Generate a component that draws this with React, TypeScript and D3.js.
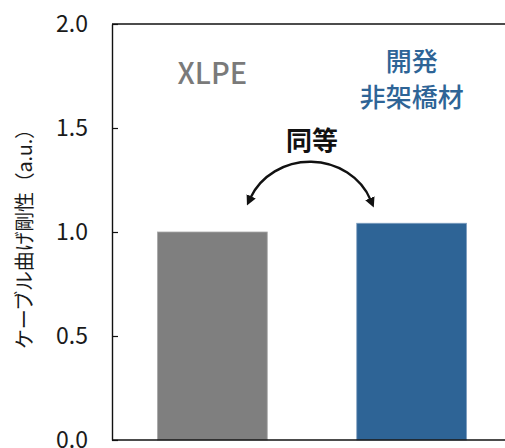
import React, { useEffect, useRef } from 'react';
import * as d3 from 'd3';

const categories = ['XLPE', '開発非架橋材'];
const values = [1.0, 1.042];
const barColors = ['#7f7f7f', '#2e6496'];
const barStrokes = ['#a8a8a8', '#7f9fc0'];
const yTicks = [0, 0.5, 1.0, 1.5, 2.0];
const yLabel = 'ケーブル曲げ剛性（a.u.）';
const blueLabel = ['開発', '非架橋材'];
const equalLabel = '同等';

const FONT = '"Noto Sans CJK JP", "Noto Sans", sans-serif';

const App: React.FC = () => {
  const svgRef = useRef<SVGSVGElement>(null);

  useEffect(() => {
    if (!svgRef.current) return;
    const width = 505;
    const height = 448;
    const margin = { top: 24, left: 112, bottom: 8, right: -7 };

    const svg = d3.select(svgRef.current);
    svg.selectAll('*').remove();

    const x = d3.scaleBand<string>()
      .domain(categories)
      .range([margin.left, width - margin.right])
      .paddingInner(0.449)
      .paddingOuter(0.228);

    const y = d3.scaleLinear()
      .domain([0, 2])
      .range([height - margin.bottom, margin.top]);

    // bars
    svg.append('g')
      .selectAll('rect')
      .data(values)
      .enter().append('rect')
      .attr('x', (_, i) => x(categories[i])!)
      .attr('y', d => y(d))
      .attr('width', x.bandwidth())
      .attr('height', d => y(0) - y(d))
      .attr('fill', (_, i) => barColors[i])
      .attr('stroke', (_, i) => barStrokes[i])
      .attr('stroke-width', 0.8);

    // frame: top and bottom lines
    svg.append('line')
      .attr('x1', margin.left).attr('x2', width + 10)
      .attr('y1', y(2)).attr('y2', y(2))
      .attr('stroke', '#111').attr('stroke-width', 1.4);
    svg.append('line')
      .attr('x1', margin.left).attr('x2', width + 10)
      .attr('y1', y(0)).attr('y2', y(0))
      .attr('stroke', '#111').attr('stroke-width', 1.4);

    // y axis, ticks inward
    const yAxis = svg.append('g')
      .attr('transform', `translate(${margin.left},0)`)
      .call(d3.axisLeft(y)
        .tickValues(yTicks)
        .tickFormat(d3.format('.1f'))
        .tickSizeInner(-6)
        .tickSizeOuter(0)
        .tickPadding(24));
    yAxis.select('.domain').attr('stroke', '#111').attr('stroke-width', 1.4);
    yAxis.selectAll('.tick line').attr('stroke', '#111').attr('stroke-width', 1.2);
    yAxis.selectAll('.tick text')
      .attr('font-family', FONT)
      .attr('font-size', 23)
      .attr('fill', '#1a1a1a')
      .attr('dy', '0.34em');

    // y axis title
    svg.append('text')
      .attr('transform', `translate(23,${(y(2) + y(0)) / 2 + 2}) rotate(-90)`)
      .attr('text-anchor', 'middle')
      .attr('dominant-baseline', 'central')
      .attr('font-family', FONT)
      .attr('font-size', 20)
      .attr('textLength', 230)
      .attr('lengthAdjust', 'spacing')
      .attr('fill', '#1a1a1a')
      .text(yLabel);

    const cx = (i: number) => x(categories[i])! + x.bandwidth() / 2;

    // category labels inside plot
    svg.append('text')
      .attr('x', cx(0))
      .attr('y', y(1.71))
      .attr('text-anchor', 'middle')
      .attr('font-family', FONT)
      .attr('font-size', 29)
      .attr('font-weight', 500)
      .attr('fill', '#7a7a7a')
      .text(categories[0]);

    svg.append('g')
      .selectAll('text')
      .data(blueLabel)
      .enter().append('text')
      .attr('x', cx(1))
      .attr('y', (_, i) => y(1.83) + i * 36)
      .attr('text-anchor', 'middle')
      .attr('dominant-baseline', 'central')
      .attr('font-family', FONT)
      .attr('font-size', 26)
      .attr('font-weight', 500)
      .attr('fill', '#2e6496')
      .text(d => d);

    const midX = (cx(0) + cx(1)) / 2;
    svg.append('text')
      .attr('x', midX)
      .attr('y', y(1.45))
      .attr('text-anchor', 'middle')
      .attr('dominant-baseline', 'central')
      .attr('font-family', FONT)
      .attr('font-size', 26)
      .attr('font-weight', 700)
      .attr('fill', '#111')
      .text(equalLabel);

    // double arrow arc
    const defs = svg.append('defs');
    defs.append('marker')
      .attr('id', 'arrowHead')
      .attr('viewBox', '0 0 10 10')
      .attr('refX', 2)
      .attr('refY', 5)
      .attr('markerWidth', 4.2)
      .attr('markerHeight', 4.2)
      .attr('markerUnits', 'strokeWidth')
      .attr('orient', 'auto-start-reverse')
      .append('path')
      .attr('d', 'M0,0 L10,5 L0,10 Z')
      .attr('fill', '#111');

    const ax0 = cx(0) + 38;
    const ax1 = cx(1) - 41;
    const ay = y(1.163);
    svg.append('path')
      .attr('d', `M${ax0},${ay} A65,60 0 0 1 ${ax1},${ay + 2}`)
      .attr('fill', 'none')
      .attr('stroke', '#111')
      .attr('stroke-width', 2.4)
      .attr('marker-start', 'url(#arrowHead)')
      .attr('marker-end', 'url(#arrowHead)');
  }, []);

  return (
    <svg
      ref={svgRef}
      width={505}
      height={448}
      style={{ position: 'absolute', left: 0, top: 0, background: '#fff' }}
    />
  );
};

export default App;
